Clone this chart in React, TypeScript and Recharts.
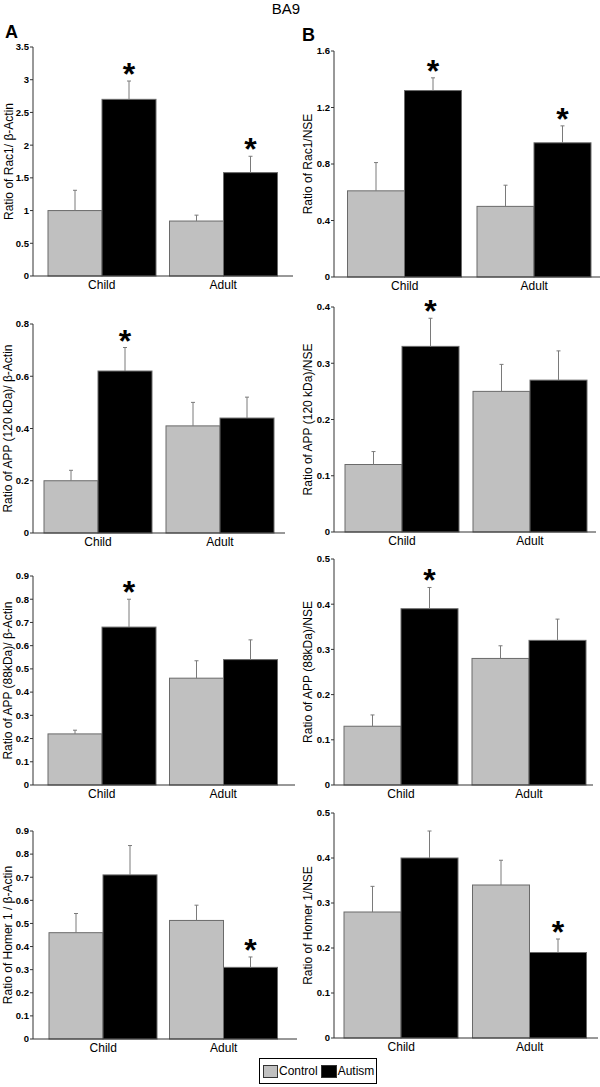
import React from 'react'
import { BarChart, Bar, XAxis, YAxis } from 'recharts'

const categories = ['Child', 'Adult']

// Rac1 / β-Actin
const rac1ActinControl = [1.0, 0.84]
const rac1ActinControlSem = [0.31, 0.09]
const rac1ActinAutism = [2.7, 1.58]
const rac1ActinAutismSem = [0.28, 0.25]
const rac1ActinSig = [true, true]
const rac1ActinTicks = [0, 0.5, 1, 1.5, 2, 2.5, 3, 3.5]

// Rac1 / NSE
const rac1NseControl = [0.61, 0.5]
const rac1NseControlSem = [0.2, 0.15]
const rac1NseAutism = [1.32, 0.95]
const rac1NseAutismSem = [0.09, 0.12]
const rac1NseSig = [true, true]
const rac1NseTicks = [0, 0.4, 0.8, 1.2, 1.6]

// APP 120 kDa / β-Actin
const app120ActinControl = [0.2, 0.41]
const app120ActinControlSem = [0.04, 0.09]
const app120ActinAutism = [0.62, 0.44]
const app120ActinAutismSem = [0.09, 0.08]
const app120ActinSig = [true, false]
const app120ActinTicks = [0, 0.2, 0.4, 0.6, 0.8]

// APP 120 kDa / NSE
const app120NseControl = [0.12, 0.25]
const app120NseControlSem = [0.023, 0.048]
const app120NseAutism = [0.33, 0.27]
const app120NseAutismSem = [0.05, 0.052]
const app120NseSig = [true, false]
const app120NseTicks = [0, 0.1, 0.2, 0.3, 0.4]

// APP 88 kDa / β-Actin
const app88ActinControl = [0.22, 0.46]
const app88ActinControlSem = [0.016, 0.075]
const app88ActinAutism = [0.68, 0.54]
const app88ActinAutismSem = [0.12, 0.085]
const app88ActinSig = [true, false]
const app88ActinTicks = [0, 0.1, 0.2, 0.3, 0.4, 0.5, 0.6, 0.7, 0.8, 0.9]

// APP 88 kDa / NSE
const app88NseControl = [0.13, 0.28]
const app88NseControlSem = [0.025, 0.028]
const app88NseAutism = [0.39, 0.32]
const app88NseAutismSem = [0.047, 0.047]
const app88NseSig = [true, false]
const app88NseTicks = [0, 0.1, 0.2, 0.3, 0.4, 0.5]

// Homer 1 / β-Actin
const homerActinControl = [0.46, 0.513]
const homerActinControlSem = [0.083, 0.066]
const homerActinAutism = [0.71, 0.31]
const homerActinAutismSem = [0.127, 0.045]
const homerActinSig = [false, true]
const homerActinTicks = [0, 0.1, 0.2, 0.3, 0.4, 0.5, 0.6, 0.7, 0.8, 0.9]

// Homer 1 / NSE
const homerNseControl = [0.28, 0.34]
const homerNseControlSem = [0.057, 0.055]
const homerNseAutism = [0.4, 0.19]
const homerNseAutismSem = [0.06, 0.03]
const homerNseSig = [false, true]
const homerNseTicks = [0, 0.1, 0.2, 0.3, 0.4, 0.5]

const FONT = 'Arial, "Liberation Sans", sans-serif'

type Layout = {
  left: number
  plotTop: number
  plotBottom: number
  axisX: number
  axisEnd: number
  padL: number
  padR: number
  gap: number
  labelOffset: number
}

const makeShape = (valueKey: string, semKey: string, withStar: boolean) => (props: any) => {
  const { x, y, width, height, payload, fill } = props
  const value = payload[valueKey]
  const base = y + height
  const errY = base - (height * (value + payload[semKey])) / value
  const cx = x + width / 2
  return (
    <g>
      <rect x={x} y={y} width={width} height={height} fill={fill} stroke="#6a6a6a" strokeWidth={1} />
      <line x1={cx} y1={y} x2={cx} y2={errY} stroke="#7a7a7a" strokeWidth={1} />
      <line x1={cx - 2} y1={errY} x2={cx + 2} y2={errY} stroke="#7a7a7a" strokeWidth={1} />
      {withStar && payload.sig && (
        <text x={cx} y={errY + 4} textAnchor="middle" fontSize={32} fontWeight="bold" fill="#000">
          *
        </text>
      )}
    </g>
  )
}

function Panel(p: {
  layout: Layout
  yLabel: string
  ticks: number[]
  control: number[]
  controlSem: number[]
  autism: number[]
  autismSem: number[]
  sig: boolean[]
}) {
  const { layout } = p
  const data = categories.map((c, i) => ({
    category: c,
    control: p.control[i],
    controlSem: p.controlSem[i],
    autism: p.autism[i],
    autismSem: p.autismSem[i],
    sig: p.sig[i]
  }))
  const top = layout.plotTop - 20
  const height = layout.plotBottom - layout.plotTop + 20 + 22
  return (
    <div style={{ position: 'absolute', left: layout.left, top }}>
      <BarChart
        width={300}
        height={height}
        data={data}
        margin={{ top: 20, right: 300 - (layout.axisEnd - layout.left), bottom: 0, left: 0 }}
        barCategoryGap={layout.gap}
        barGap={0}
      >
        <XAxis
          dataKey="category"
          tickLine={false}
          tickSize={0}
          tickMargin={4}
          axisLine={{ stroke: '#333' }}
          tick={{ fontSize: 12, fill: '#000' }}
          padding={{ left: layout.padL, right: layout.padR }}
          interval={0}
          height={22}
        />
        <YAxis
          type="number"
          domain={[0, p.ticks[p.ticks.length - 1]]}
          ticks={p.ticks}
          interval={0}
          width={layout.axisX - layout.left}
          tickSize={3}
          tickMargin={1}
          axisLine={{ stroke: '#333' }}
          tickLine={{ stroke: '#333' }}
          tick={{ fontSize: 9.5, fontWeight: 'bold', fill: '#000' }}
          label={{
            value: p.yLabel,
            angle: -90,
            position: 'insideLeft',
            offset: layout.labelOffset,
            style: { textAnchor: 'middle', fontSize: 12, fill: '#000' }
          }}
        />
        <Bar dataKey="control" fill="#c0c0c0" isAnimationActive={false} shape={makeShape('control', 'controlSem', false)} />
        <Bar dataKey="autism" fill="#000000" isAnimationActive={false} shape={makeShape('autism', 'autismSem', true)} />
      </BarChart>
    </div>
  )
}

const layoutA1: Layout = { left: 0, plotTop: 47, plotBottom: 276, axisX: 33, axisEnd: 293, padL: 8, padR: 9, gap: 7, labelOffset: 9 }
const layoutA2: Layout = { left: 0, plotTop: 324, plotBottom: 533, axisX: 33, axisEnd: 285, padL: 4, padR: 4, gap: 7, labelOffset: 8 }
const layoutA3: Layout = { left: 0, plotTop: 576, plotBottom: 785, axisX: 33, axisEnd: 295, padL: 8, padR: 11, gap: 7, labelOffset: 8 }
const layoutA4: Layout = { left: 0, plotTop: 831, plotBottom: 1039, axisX: 33, axisEnd: 297, padL: 10, padR: 13, gap: 6, labelOffset: 8 }
const layoutB1: Layout = { left: 300, plotTop: 51, plotBottom: 277, axisX: 334, axisEnd: 600, padL: 6, padR: 1, gap: 7.5, labelOffset: 8 }
const layoutB2: Layout = { left: 300, plotTop: 307, plotBottom: 532, axisX: 334, axisEnd: 596, padL: 4, padR: 2, gap: 7, labelOffset: 8 }
const layoutB3: Layout = { left: 300, plotTop: 559, plotBottom: 785, axisX: 334, axisEnd: 593, padL: 3, padR: 0, gap: 7, labelOffset: 8 }
const layoutB4: Layout = { left: 300, plotTop: 813, plotBottom: 1038, axisX: 334, axisEnd: 598, padL: 3, padR: 4, gap: 7, labelOffset: 8 }

export default function App() {
  return (
    <div
      style={{
        position: 'absolute',
        left: 0,
        top: 0,
        width: 600,
        height: 1087,
        background: '#fff',
        fontFamily: FONT,
        color: '#000'
      }}
    >
      <div style={{ position: 'absolute', left: 236, top: 1, width: 100, textAlign: 'center', fontSize: 15, lineHeight: '16px' }}>
        BA9
      </div>
      <div style={{ position: 'absolute', left: 5, top: 23, fontSize: 18, fontWeight: 'bold', lineHeight: '18px' }}>A</div>
      <div style={{ position: 'absolute', left: 302, top: 26, fontSize: 18, fontWeight: 'bold', lineHeight: '18px' }}>B</div>

      <Panel layout={layoutA1} yLabel="Ratio of Rac1/ β-Actin" ticks={rac1ActinTicks}
        control={rac1ActinControl} controlSem={rac1ActinControlSem}
        autism={rac1ActinAutism} autismSem={rac1ActinAutismSem} sig={rac1ActinSig} />
      <Panel layout={layoutB1} yLabel="Ratio of Rac1/NSE" ticks={rac1NseTicks}
        control={rac1NseControl} controlSem={rac1NseControlSem}
        autism={rac1NseAutism} autismSem={rac1NseAutismSem} sig={rac1NseSig} />
      <Panel layout={layoutA2} yLabel="Ratio of APP (120 kDa)/ β-Actin" ticks={app120ActinTicks}
        control={app120ActinControl} controlSem={app120ActinControlSem}
        autism={app120ActinAutism} autismSem={app120ActinAutismSem} sig={app120ActinSig} />
      <Panel layout={layoutB2} yLabel="Ratio of APP (120 kDa)/NSE" ticks={app120NseTicks}
        control={app120NseControl} controlSem={app120NseControlSem}
        autism={app120NseAutism} autismSem={app120NseAutismSem} sig={app120NseSig} />
      <Panel layout={layoutA3} yLabel="Ratio of APP (88kDa)/ β-Actin" ticks={app88ActinTicks}
        control={app88ActinControl} controlSem={app88ActinControlSem}
        autism={app88ActinAutism} autismSem={app88ActinAutismSem} sig={app88ActinSig} />
      <Panel layout={layoutB3} yLabel="Ratio of APP (88kDa)/NSE" ticks={app88NseTicks}
        control={app88NseControl} controlSem={app88NseControlSem}
        autism={app88NseAutism} autismSem={app88NseAutismSem} sig={app88NseSig} />
      <Panel layout={layoutA4} yLabel="Ratio of Homer 1 / β-Actin" ticks={homerActinTicks}
        control={homerActinControl} controlSem={homerActinControlSem}
        autism={homerActinAutism} autismSem={homerActinAutismSem} sig={homerActinSig} />
      <Panel layout={layoutB4} yLabel="Ratio of Homer 1/NSE" ticks={homerNseTicks}
        control={homerNseControl} controlSem={homerNseControlSem}
        autism={homerNseAutism} autismSem={homerNseAutismSem} sig={homerNseSig} />

      <div
        style={{
          position: 'absolute',
          left: 259,
          top: 1058,
          width: 118,
          height: 26,
          boxSizing: 'border-box',
          border: '1.5px solid #000',
          display: 'flex',
          alignItems: 'center',
          paddingLeft: 3,
          fontSize: 12
        }}
      >
        <span style={{ display: 'inline-block', width: 15, height: 13, background: '#c0c0c0', border: '1.5px solid #333', boxSizing: 'border-box', marginRight: 1 }} />
        <span>Control</span>
        <span style={{ display: 'inline-block', width: 16, height: 13, background: '#000', border: '1.5px solid #333', boxSizing: 'border-box', marginLeft: 3, marginRight: 1 }} />
        <span>Autism</span>
      </div>
    </div>
  )
}
